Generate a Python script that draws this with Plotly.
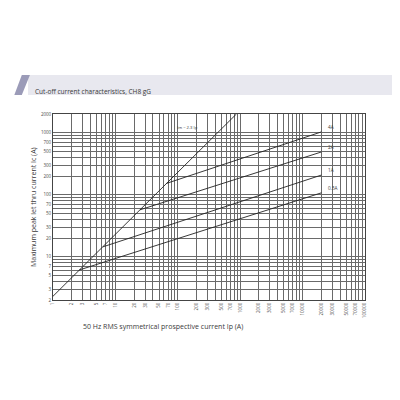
import math
import plotly.graph_objects as go

# data (log-log)
ip_diag = [1, 870]
ic_diag = [2.3, 2000]

ratings = ["0.5A", "1A", "2A", "4A"]
ip_curves = [[2.64, 20000], [6.3, 20000], [24.8, 20000], [66, 20000]]
ic_curves = [[6.1, 107], [14.4, 207], [57, 488], [152, 1028]]

x_ticks = [1, 2, 3, 5, 7, 10, 20, 30, 50, 70, 100, 200, 300, 500, 700, 1000,
           2000, 3000, 5000, 7000, 10000, 20000, 30000, 50000, 70000, 100000]
y_ticks = [2, 3, 5, 7, 10, 20, 30, 50, 70, 100, 200, 300, 500, 700, 1000, 2000]

x_minor = [m * 10 ** d for d in range(0, 5) for m in range(1, 10)] + [100000]
y_minor = [m * 10 ** d for d in range(0, 4) for m in range(1, 10) if 2 <= m * 10 ** d <= 2000]

line_col = "#222222"
grid_col = "#6a6a6a"
text_col = "#3a3a3a"

fig = go.Figure()
fig.add_trace(go.Scatter(x=ip_diag, y=ic_diag, mode="lines",
                         line=dict(color=line_col, width=0.9), showlegend=False))
for name, xs, ys in zip(ratings, ip_curves, ic_curves):
    fig.add_trace(go.Scatter(x=xs, y=ys, mode="lines",
                             line=dict(color=line_col, width=0.9), showlegend=False))
    # annotations on log axes take log10 positions
    fig.add_annotation(x=math.log10(xs[-1]) + 0.07, y=math.log10(ys[-1]), xref="x", yref="y",
                       text=name, showarrow=False, xanchor="left", yanchor="bottom",
                       yshift=0, font=dict(size=4.7, color=text_col))

fig.add_annotation(x=math.log10(90), y=math.log10(1230), xref="x", yref="y", text="Im = 2.3 Ip",
                   showarrow=False, xanchor="left", font=dict(size=4.2, color=text_col))

fig.update_xaxes(type="log", range=[0, 5], tickmode="array", tickvals=x_ticks,
                 ticktext=[str(v) for v in x_ticks], tickangle=-90,
                 tickfont=dict(size=4.5, color="#4a4a4a"), showgrid=True,
                 gridcolor=grid_col, gridwidth=0.8, showline=True, linecolor="#444",
                 linewidth=0.8, mirror=True, zeroline=False, ticks="",
                 minor=dict(tickmode="array", tickvals=x_minor, showgrid=True,
                            gridcolor=grid_col, gridwidth=0.6))
fig.update_yaxes(type="log", range=[0.30103, 3.30103], tickmode="array", tickvals=y_ticks,
                 ticktext=[str(v) for v in y_ticks],
                 tickfont=dict(size=4.5, color="#4a4a4a"), showgrid=True,
                 gridcolor=grid_col, gridwidth=0.8, showline=True, linecolor="#444",
                 linewidth=0.8, mirror=True, zeroline=False, ticks="",
                 minor=dict(tickmode="array", tickvals=y_minor, showgrid=True,
                            gridcolor=grid_col, gridwidth=0.6))

# title band
fig.add_shape(type="rect", xref="paper", yref="paper", x0=-0.080, x1=1.12, y0=1.102, y1=1.2097,
              fillcolor="#e8e8ef", line=dict(width=0), layer="below")
fig.add_shape(type="path", xref="paper", yref="paper",
              path="M -0.124 1.102 L -0.100 1.102 L -0.074 1.2097 L -0.100 1.2097 Z",
              fillcolor="#9b9bb8", line=dict(width=0))
fig.add_annotation(x=-0.064, y=1.156, xref="paper", yref="paper", text="Cut-off current characteristics, CH8 gG",
                   showarrow=False, xanchor="left", font=dict(size=6.5, color=text_col))

fig.add_annotation(x=0.09, y=-0.175, xref="paper", yref="paper",
                   text="50 Hz RMS symmetrical prospective current Ip (A)",
                   showarrow=False, xanchor="left", font=dict(size=7, color=text_col))
fig.add_annotation(x=-0.085, y=0.5, xref="paper", yref="paper",
                   text="Maximum peak let thru current Ic (A)", textangle=-90,
                   showarrow=False, font=dict(size=7, color=text_col))

# page body has an 8px margin, so shift the plot area up/left to match
fig.update_layout(width=400, height=400, margin=dict(l=45, r=43, t=106, b=108),
                  paper_bgcolor="white", plot_bgcolor="white",
                  font=dict(family="Open Sans"))

fig.write_html("out.html")
